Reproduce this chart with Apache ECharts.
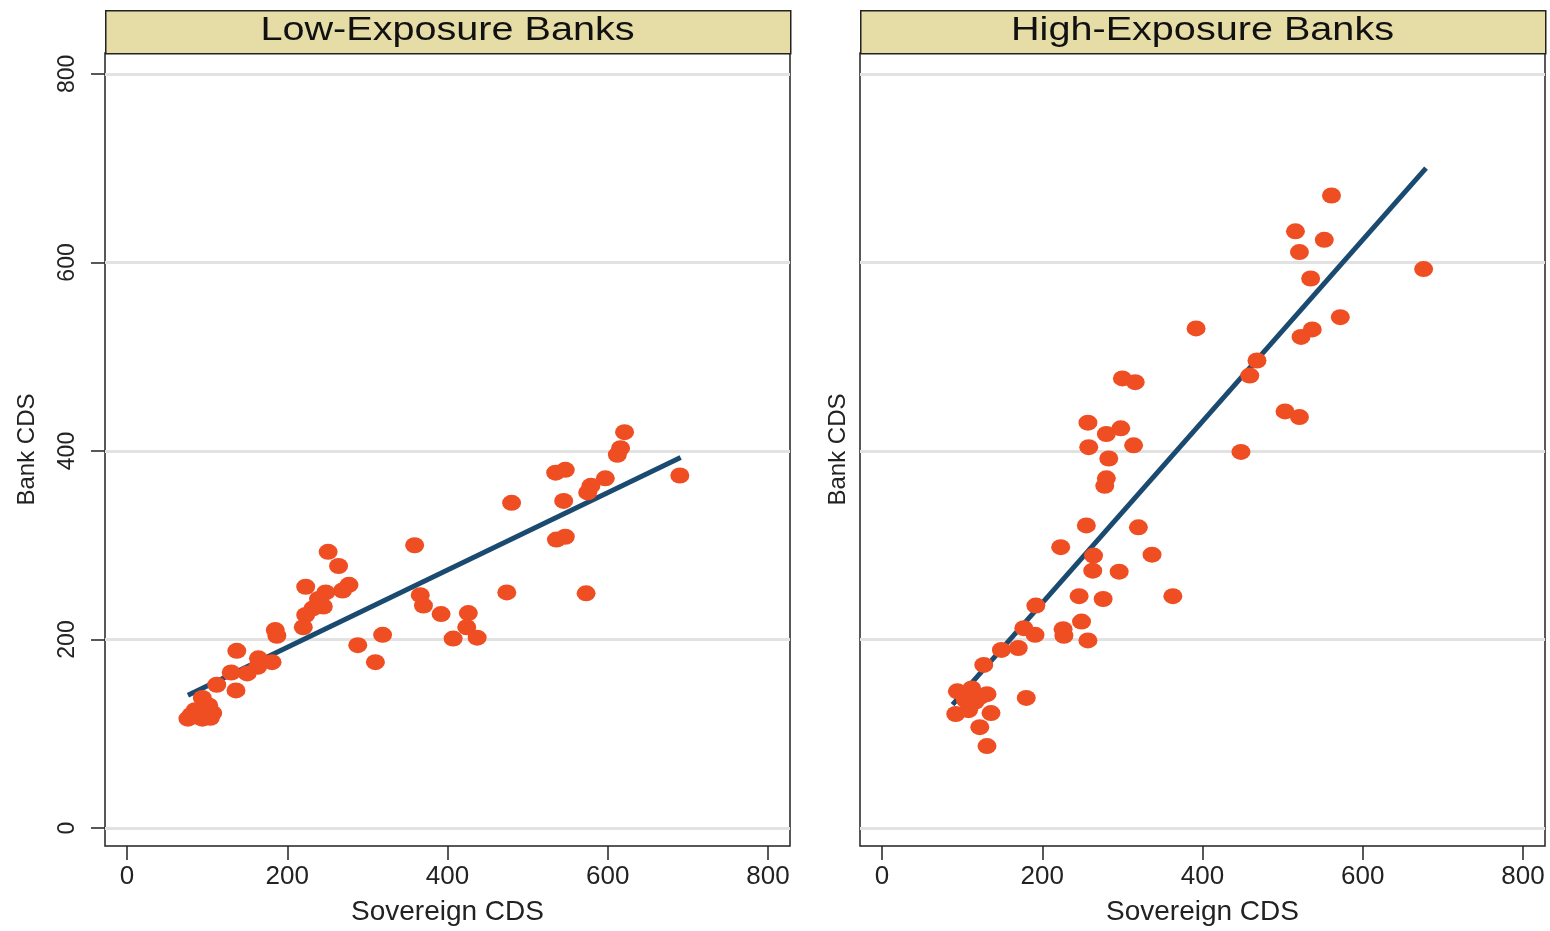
<!DOCTYPE html>
<html>
<head>
<meta charset="utf-8">
<title>Bank CDS vs Sovereign CDS</title>
<script src="https://cdn.jsdelivr.net/npm/echarts@6/dist/echarts.min.js"></script>
<style>
  html, body { margin: 0; padding: 0; background: #fff; }
  #main { width: 1550px; height: 931px; }
</style>
</head>
<body>
<div id="main"></div>
<script>
// panel titles and axis ticks
var panelTitles = ['Low-Exposure Banks', 'High-Exposure Banks'];
var tickValues = [0, 200, 400, 600, 800];

// low exposure banks: sovereign CDS (x), bank CDS (y)
var lowX = [621, 616, 612, 690, 597, 579, 575, 535, 547, 545, 480, 536, 547, 573, 474,
  359, 366, 370, 392, 426, 424, 407, 437, 319, 288, 310, 251, 264, 277, 269,
  223, 248, 239, 245, 232, 223, 220, 185, 187, 137, 164, 181, 163, 150, 130,
  136, 112, 94, 98, 80, 107, 94, 76, 85, 90, 102, 104, 88];
var lowY = [420, 403, 396, 374, 371, 363, 356, 377, 380, 347, 345, 306, 309, 249, 250,
  300, 247, 236, 227, 228, 213, 201, 202, 205, 194, 176, 293, 278, 258, 252,
  256, 250, 243, 235, 233, 226, 213, 210, 204, 188, 180, 176, 171, 164, 165,
  146, 152, 138, 124, 120, 122, 116, 116, 125, 118, 130, 117, 122];
// fitted line
var lowFitX = [76, 691];
var lowFitY = [141, 393];

// high exposure banks
var highX = [561, 516, 552, 521, 676, 535, 572, 537, 523, 392, 468, 459, 503, 521, 448,
  300, 316, 257, 280, 298, 258, 314, 283, 280, 278, 255, 223, 320, 337, 264,
  263, 296, 363, 246, 276, 192, 249, 226, 227, 257, 177, 191, 170, 149, 127,
  180, 94, 112, 131, 104, 116, 122, 92, 108, 136, 122, 131];
var highY = [671, 633, 624, 611, 593, 583, 542, 529, 521, 530, 496, 480, 442, 436, 399,
  477, 473, 430, 418, 424, 404, 406, 392, 371, 363, 321, 298, 319, 290, 289,
  273, 272, 246, 246, 243, 236, 219, 211, 204, 199, 212, 205, 191, 189, 173,
  138, 145, 148, 142, 136, 134, 139, 121, 125, 122, 107, 87];
var highFitX = [88, 679];
var highFitY = [131, 700];

function pairs(xs, ys) {
  return xs.map(function (x, i) { return [x, ys[i]]; });
}

var FONT = 'Liberation Sans';
var panelLefts = [105, 860];
var panelWidth = 685;

var myChart = echarts.init(document.getElementById('main'));

function xAxisFor(idx) {
  return {
    gridIndex: idx,
    type: 'value',
    min: -27.5,
    max: 827.5,
    name: 'Sovereign CDS',
    nameLocation: 'middle',
    nameGap: 52,
    nameTextStyle: { fontFamily: FONT, fontSize: 28, color: '#222' },
    axisLine: { show: false, onZero: false },
    axisTick: { show: true, inside: false, length: 14, customValues: tickValues,
      lineStyle: { color: '#222', width: 1.5 } },
    axisLabel: { customValues: tickValues, margin: 18, fontFamily: FONT, fontSize: 26, color: '#222' },
    splitLine: { show: false }
  };
}

function yAxisFor(idx) {
  return {
    gridIndex: idx,
    type: 'value',
    min: -19.05,
    max: 822.2,
    name: 'Bank CDS',
    nameLocation: 'middle',
    nameGap: idx === 0 ? 66 : 10,
    nameRotate: 90,
    nameTextStyle: { fontFamily: FONT, fontSize: 24, color: '#222' },
    axisLine: { show: false, onZero: false },
    axisTick: { show: idx === 0, inside: false, length: 14, customValues: tickValues,
      lineStyle: { color: '#222', width: 1.5 } },
    axisLabel: { show: idx === 0, customValues: tickValues, rotate: 90, margin: 26,
      fontFamily: FONT, fontSize: 23, color: '#222' },
    splitLine: { show: true, lineStyle: { color: '#e2e2e2', width: 3 } }
  };
}

var graphics = [];
panelLefts.forEach(function (left, i) {
  graphics.push({
    type: 'rect',
    left: left, top: 10,
    shape: { width: panelWidth, height: 43 },
    style: { fill: '#e6dca6', stroke: '#222', lineWidth: 1.5 }
  });
  graphics.push({
    type: 'text',
    x: left + panelWidth / 2, y: 31,
    scaleX: 1.2,
    style: { text: panelTitles[i], fill: '#111', font: '33px "Liberation Sans"',
      textAlign: 'center', textVerticalAlign: 'middle' }
  });
});

var option = {
  animation: false,
  backgroundColor: '#fff',
  grid: [
    { left: 105, right: 760, top: 53, bottom: 83, show: true, borderColor: '#222', borderWidth: 1.5 },
    { left: 860, right: 5, top: 53, bottom: 83, show: true, borderColor: '#222', borderWidth: 1.5 }
  ],
  xAxis: [xAxisFor(0), xAxisFor(1)],
  yAxis: [yAxisFor(0), yAxisFor(1)],
  graphic: graphics,
  series: [
    { type: 'line', xAxisIndex: 0, yAxisIndex: 0, data: pairs(lowFitX, lowFitY),
      symbol: 'none', lineStyle: { color: '#1b4a70', width: 5 }, z: 2 },
    { type: 'scatter', xAxisIndex: 0, yAxisIndex: 0, data: pairs(lowX, lowY),
      symbol: 'circle', symbolSize: [19, 16], itemStyle: { color: '#ef4d22', opacity: 1 }, z: 3 },
    { type: 'line', xAxisIndex: 1, yAxisIndex: 1, data: pairs(highFitX, highFitY),
      symbol: 'none', lineStyle: { color: '#1b4a70', width: 5 }, z: 2 },
    { type: 'scatter', xAxisIndex: 1, yAxisIndex: 1, data: pairs(highX, highY),
      symbol: 'circle', symbolSize: [19, 16], itemStyle: { color: '#ef4d22', opacity: 1 }, z: 3 }
  ]
};

myChart.setOption(option);
</script>
</body>
</html>
